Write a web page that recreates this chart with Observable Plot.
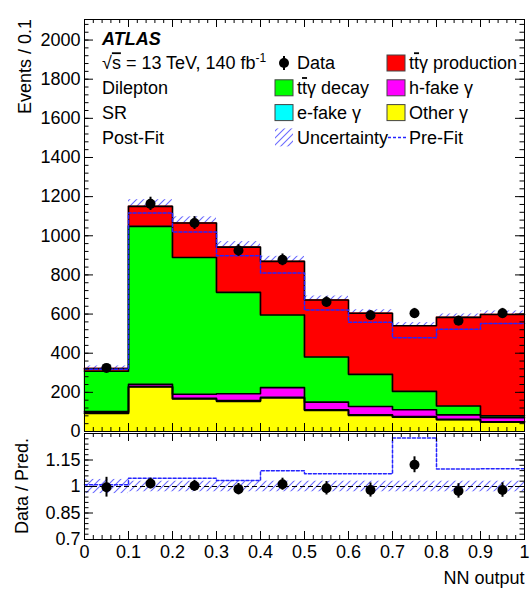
<!DOCTYPE html>
<html><head><meta charset="utf-8">
<script src="https://cdn.jsdelivr.net/npm/d3@7"></script>
<script src="https://cdn.jsdelivr.net/npm/@observablehq/plot@0.6"></script>
<style>
body{margin:0;background:#fff;}
#chart{width:531px;height:597px;position:relative;background:#fff;}
#chart svg{display:block;}
</style></head><body><div id="chart"></div>
<script>
// ---------------- data ----------------
const binEdges = [0, 0.1, 0.2, 0.3, 0.4, 0.5, 0.6, 0.7, 0.8, 0.9, 1.0];
const otherGamma    = [92, 227, 166, 154, 171, 108, 82, 73, 60, 48];
const eFakeGamma    = [3, 3, 3, 4, 4, 3, 3, 3, 2, 2];
const hFakeGamma    = [7, 11, 21, 35, 49, 39, 43, 35, 23, 20];
const ttyDecay      = [206, 807, 699, 518, 371, 231, 164, 94, 45, 10];
const ttyProduction = [14, 102, 176, 231, 274, 291, 312, 335, 453, 518];
const preFit        = [318, 1117, 1019, 898, 810, 621, 558, 479, 522, 552];
const dataValues    = [325, 1163, 1065, 925, 877, 662, 594, 604, 566, 604];
const dataErrors    = [18, 34, 33, 30, 30, 26, 24, 25, 24, 25];
const uncertaintyRel = [0.04, 0.03, 0.03, 0.03, 0.03, 0.03, 0.03, 0.03, 0.03, 0.03];
const ratioData     = [0.996, 1.017, 1.004, 0.985, 1.013, 0.99, 0.98, 1.123, 0.975, 0.98];
const ratioDataErr  = [0.056, 0.03, 0.031, 0.032, 0.034, 0.038, 0.04, 0.045, 0.041, 0.041];
const ratioPreFit   = [1.01, 1.046, 1.046, 1.034, 1.089, 1.072, 1.072, 1.275, 1.099, 1.10];
const xMajorTicks = [0, 0.1, 0.2, 0.3, 0.4, 0.5, 0.6, 0.7, 0.8, 0.9, 1];
const mainYTicks = [0, 200, 400, 600, 800, 1000, 1200, 1400, 1600, 1800, 2000];
const ratioYTicks = [0.7, 0.85, 1, 1.15, 1.3];
const ratioYLabels = [0.7, 0.85, 1, 1.15];
const componentNames  = ["Other γ", "e-fake γ", "h-fake γ", "ttγ decay", "ttγ production"];
const componentColors = ["#ffff00", "#00ffff", "#ff00ff", "#00ff00", "#ff0000"];

// ---------------- derived tables ----------------
const FONT = "'Liberation Sans', Arial, Helvetica, sans-serif";
const W = 531, mL = 84, mR = 7;
const plotW = W - mL - mR;
const bins = binEdges.slice(0, -1).map((x1, i) => ({i, x1, x2: binEdges[i + 1], xc: (x1 + binEdges[i + 1]) / 2}));
const compValues = [otherGamma, eFakeGamma, hFakeGamma, ttyDecay, ttyProduction];
const stackRows = [];
const stepPts = [];
const totals = bins.map(() => 0);
compValues.forEach((vals, c) => {
  bins.forEach((b, i) => {
    const y1 = totals[i], y2 = y1 + vals[i];
    totals[i] = y2;
    stackRows.push({x1: b.x1, x2: b.x2, y1, y2, fill: componentColors[c], name: componentNames[c]});
  });
  binEdges.forEach((x, i) => stepPts.push({comp: componentNames[c], x, y: totals[Math.min(i, bins.length - 1)]}));
});
const bandRows = bins.map((b, i) => ({x1: b.x1, x2: b.x2, y1: totals[i] * (1 - uncertaintyRel[i]), y2: totals[i] * (1 + uncertaintyRel[i])}));
const prePts = binEdges.map((x, i) => ({x, y: preFit[Math.min(i, preFit.length - 1)]}));
const dataRows = bins.map((b, i) => ({xc: b.xc, v: dataValues[i], lo: dataValues[i] - dataErrors[i], hi: dataValues[i] + dataErrors[i]}));
const ratioBand = bins.map((b, i) => ({x1: b.x1, x2: b.x2, y1: 1 - uncertaintyRel[i], y2: 1 + uncertaintyRel[i]}));
const ratioPrePts = binEdges.map((x, i) => ({x, y: ratioPreFit[Math.min(i, ratioPreFit.length - 1)]}));
const ratioRows = bins.map((b, i) => ({xc: b.xc, v: ratioData[i], lo: ratioData[i] - ratioDataErr[i], hi: ratioData[i] + ratioDataErr[i]}));

const xMinorTicks = d3.range(0, 51).map(i => i / 50);
const mainYMinor = d3.range(0, 53).map(i => i * 40);
const ratioYMinor = d3.range(0, 21).map(i => +(0.7 + i * 0.03).toFixed(2));

function frameTicks(H, xMaj, xMin, yMaj, yMin, top) {
  const m = [];
  const xl = 8, xs = 4, yl = 9, ys = 4.5;
  m.push(Plot.tickX(xMaj, {x: d => d, insetTop: H - xl, stroke: "black"}));
  m.push(Plot.tickX(xMin, {x: d => d, insetTop: H - xs, stroke: "black"}));
  if (top) {
    m.push(Plot.tickX(xMaj, {x: d => d, insetBottom: H - xl, stroke: "black"}));
    m.push(Plot.tickX(xMin, {x: d => d, insetBottom: H - xs, stroke: "black"}));
  }
  m.push(Plot.tickY(yMaj, {y: d => d, insetRight: plotW - yl, stroke: "black"}));
  m.push(Plot.tickY(yMin, {y: d => d, insetRight: plotW - ys, stroke: "black"}));
  m.push(Plot.tickY(yMaj, {y: d => d, insetLeft: plotW - yl, stroke: "black"}));
  m.push(Plot.tickY(yMin, {y: d => d, insetLeft: plotW - ys, stroke: "black"}));
  return m;
}

const hatchColor = "#6b6bff";
function addHatch(svgEl, id) {
  const defs = d3.select(svgEl).insert("defs", ":first-child");
  const p = defs.append("pattern").attr("id", id).attr("patternUnits", "userSpaceOnUse")
    .attr("width", 7).attr("height", 7);
  p.append("path").attr("d", "M-1,1 L1,-1 M0,7 L7,0 M6,8 L8,6")
    .attr("style", `stroke:${hatchColor};stroke-width:1.1;fill:none`)
    .attr("stroke", hatchColor).attr("stroke-width", 1.1).attr("fill", "none");
}

// ---------------- main panel ----------------
const mainTop = 19, mainBottom = 1, mainHeight = 432;
const mainH = mainHeight - mainTop - mainBottom;
const main = Plot.plot({
  width: W, height: mainHeight, marginTop: mainTop, marginBottom: mainBottom, marginLeft: mL, marginRight: mR,
  style: {fontFamily: FONT, fontSize: "18px", background: "white", color: "black", overflow: "visible"},
  x: {domain: [0, 1], axis: null},
  y: {domain: [0, 2105], axis: null},
  marks: [
    Plot.rect(bandRows, {x1: "x1", x2: "x2", y1: "y1", y2: "y2", fill: "url(#hatchMain)"}),
    Plot.rect(stackRows, {x1: "x1", x2: "x2", y1: "y1", y2: "y2", fill: "fill", stroke: "fill", strokeWidth: 0.5}),
    Plot.line(stepPts, {x: "x", y: "y", z: "comp", curve: "step-after", stroke: "black", strokeWidth: 1.6}),
    Plot.line(prePts, {x: "x", y: "y", curve: "step-after", stroke: "#2424ff", strokeWidth: 1.5, strokeDasharray: "3,2"}),
    Plot.ruleX(dataRows, {x: "xc", y1: "lo", y2: "hi", stroke: "black", strokeWidth: 2}),
    Plot.dot(dataRows, {x: "xc", y: "v", r: 5, fill: "black", stroke: null}),
    ...frameTicks(mainH, xMajorTicks, xMinorTicks, mainYTicks, mainYMinor, true),
    Plot.axisY(mainYTicks, {tickSize: 0, tickPadding: 4, fontSize: 18, label: null, tickFormat: d => String(d)}),
    Plot.frame({stroke: "black", strokeWidth: 1})
  ]
});
addHatch(main, "hatchMain");

// legend and labels
{
  const g = d3.select(main).append("g").attr("font-family", FONT).attr("font-size", 18)
    .attr("fill", "black").attr("text-anchor", "start");
  g.append("text").attr("transform", "translate(25,19) rotate(-90)").attr("text-anchor", "end")
    .attr("dy", "0.35em").text("Events / 0.1");
  const rowY = i => 63 + i * 24.8;
  g.append("text").attr("x", 102).attr("y", 39).attr("dy", "0.35em")
    .attr("font-weight", "bold").attr("font-style", "italic").text("ATLAS");
  const t1 = g.append("text").attr("x", 102).attr("y", rowY(0)).attr("dy", "0.35em");
  t1.append("tspan").text("√");
  t1.append("tspan").attr("text-decoration", "overline").text("s");
  t1.append("tspan").text(" = 13 TeV, 140 fb");
  t1.append("tspan").attr("font-size", 12).attr("dy", -7).text("-1");
  g.append("text").attr("x", 102).attr("y", rowY(1)).attr("dy", "0.35em").text("Dilepton");
  g.append("text").attr("x", 102).attr("y", rowY(2)).attr("dy", "0.35em").text("SR");
  g.append("text").attr("x", 102).attr("y", rowY(3)).attr("dy", "0.35em").text("Post-Fit");

  const c1m = 284, c1t = 297, c2m = 396, c2t = 409;
  function box(cx, cy, fill) {
    g.append("rect").attr("x", cx - 9).attr("y", cy - 8).attr("width", 18).attr("height", 16)
      .attr("fill", fill).attr("stroke", "#444").attr("stroke-width", 1);
  }
  function label(x, cy, text, ttbar) {
    const t = g.append("text").attr("x", x).attr("y", cy).attr("dy", "0.35em");
    if (ttbar) {
      t.append("tspan").text("t");
      t.append("tspan").attr("text-decoration", "overline").text("t");
      t.append("tspan").text(text);
    } else t.text(text);
  }
  g.append("line").attr("x1", c1m).attr("x2", c1m).attr("y1", rowY(0) - 7).attr("y2", rowY(0) + 7).attr("stroke", "black").attr("stroke-width", 2);
  g.append("circle").attr("cx", c1m).attr("cy", rowY(0)).attr("r", 5).attr("fill", "black");
  label(c1t, rowY(0), "Data");
  box(c2m, rowY(0), componentColors[4]); label(c2t, rowY(0), "γ production", true);
  box(c1m, rowY(1), componentColors[3]); label(c1t, rowY(1), "γ decay", true);
  box(c2m, rowY(1), componentColors[2]); label(c2t, rowY(1), componentNames[2]);
  box(c1m, rowY(2), componentColors[1]); label(c1t, rowY(2), componentNames[1]);
  box(c2m, rowY(2), componentColors[0]); label(c2t, rowY(2), componentNames[0]);
  g.append("rect").attr("x", c1m - 9).attr("y", rowY(3) - 9).attr("width", 18).attr("height", 18).attr("fill", "url(#hatchMain)");
  label(c1t, rowY(3), "Uncertainty");
  g.append("line").attr("x1", c2m - 8).attr("x2", c2m + 12).attr("y1", rowY(3)).attr("y2", rowY(3))
    .attr("stroke", "#2424ff").attr("stroke-width", 1.5).attr("stroke-dasharray", "3,2");
  label(c2t, rowY(3), "Pre-Fit");
}

// ---------------- ratio panel ----------------
const rTop = 1, rBottom = 58, rHeight = 165;
const rH = rHeight - rTop - rBottom;
const ratio = Plot.plot({
  width: W, height: rHeight, marginTop: rTop, marginBottom: rBottom, marginLeft: mL, marginRight: mR,
  style: {fontFamily: FONT, fontSize: "18px", background: "white", color: "black", overflow: "visible"},
  x: {domain: [0, 1], axis: null},
  y: {domain: [0.7, 1.3], axis: null},
  marks: [
    Plot.rect(ratioBand, {x1: "x1", x2: "x2", y1: "y1", y2: "y2", fill: "url(#hatchRatio)"}),
    Plot.ruleY([1], {stroke: "black", strokeWidth: 1.2, strokeDasharray: "5,3"}),
    Plot.line(ratioPrePts, {x: "x", y: "y", curve: "step-after", stroke: "#2424ff", strokeWidth: 1.5, strokeDasharray: "3,2"}),
    Plot.ruleX(ratioRows, {x: "xc", y1: "lo", y2: "hi", stroke: "black", strokeWidth: 2}),
    Plot.dot(ratioRows, {x: "xc", y: "v", r: 5, fill: "black", stroke: null}),
    ...frameTicks(rH, xMajorTicks, xMinorTicks, ratioYTicks, ratioYMinor, true),
    Plot.axisY(ratioYLabels, {tickSize: 0, tickPadding: 4, fontSize: 18, label: null, tickFormat: d => String(d)}),
    Plot.axisX(xMajorTicks, {tickSize: 0, tickPadding: 6, fontSize: 18, label: null, tickFormat: d => String(d)}),
    Plot.frame({stroke: "black", strokeWidth: 1}),
    Plot.text(["NN output"], {frameAnchor: "bottom-right", dy: 44, textAnchor: "end", fontSize: 18})
  ]
});
addHatch(ratio, "hatchRatio");
d3.select(ratio).append("text").attr("font-family", FONT).attr("font-size", 18).attr("fill", "black")
  .attr("text-anchor", "middle").attr("transform", `translate(22,${rTop + rH / 2}) rotate(-90)`)
  .attr("dy", "0.35em").text("Data / Pred.");

const chart = document.getElementById("chart");
chart.appendChild(main);
chart.appendChild(ratio);
</script>
</body></html>
